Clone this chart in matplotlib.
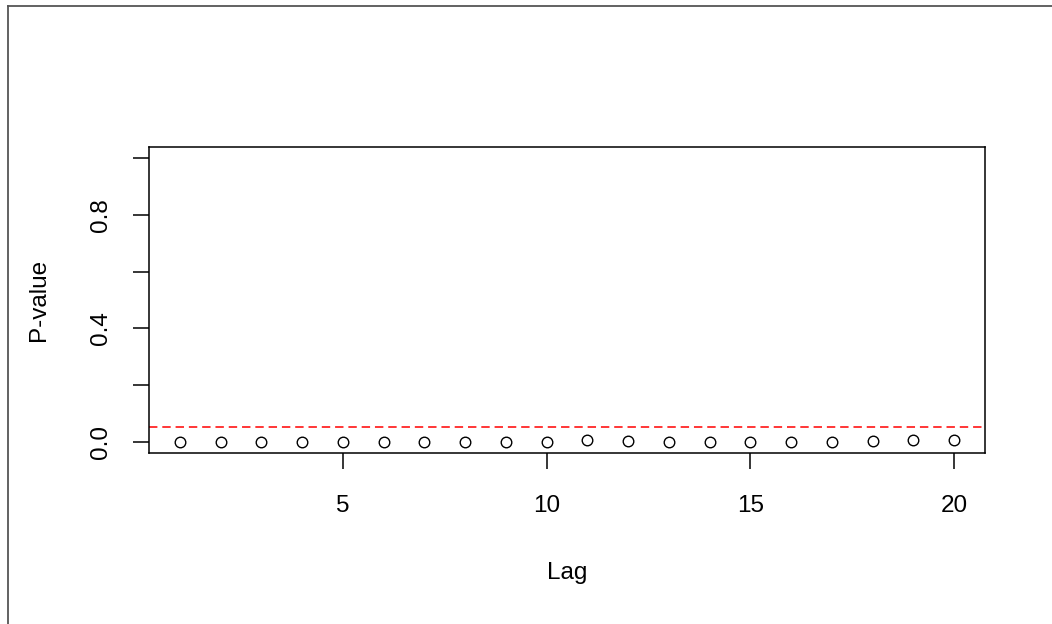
import numpy as np
import matplotlib
matplotlib.use("Agg")
import matplotlib.pyplot as plt
from matplotlib.lines import Line2D

plt.rcParams['font.family'] = ['Liberation Sans', 'DejaVu Sans']

# Ljung-Box style p-values per lag
lags = list(range(1, 21))
p_values = [0.0002, 0.0002, 0.0002, 0.0002, 0.0002, 0.0002, 0.0002, 0.0002, 0.0003, 0.0003,
            0.007, 0.0008, 0.0005, 0.0005, 0.0005, 0.0005, 0.0005, 0.0006, 0.007, 0.007]
alpha = 0.05

y_ticks = [0.0, 0.2, 0.4, 0.6, 0.8, 1.0]
y_labels = ['0.0', '', '0.4', '', '0.8', '']
x_ticks = [5, 10, 15, 20]

fig = plt.figure(figsize=(10.52, 6.24), dpi=100)
ax = fig.add_axes([149 / 1052, 1 - 453 / 624, (985 - 149) / 1052, (453 - 147) / 624])

ax.plot(lags, p_values, linestyle='none', marker='o', markersize=7.6,
        markerfacecolor='none', markeredgecolor='black', markeredgewidth=1.0)
ax.axhline(alpha, color='red', linestyle=(0, (5.5, 3.2)), linewidth=1.1)

ax.set_xlim(0.24, 20.76)
ax.set_ylim(-0.04, 1.04)
ax.set_xticks(x_ticks)
ax.set_yticks(y_ticks)
ax.set_yticklabels(y_labels, rotation=90, va='center')

for s in ax.spines.values():
    s.set_linewidth(1.1)
ax.tick_params(axis='both', length=11.5, width=1.1, labelsize=17.5, colors='black')
ax.tick_params(axis='x', pad=18.5)
ax.tick_params(axis='y', pad=15)

ax.set_xlabel('Lag', fontsize=17.5, labelpad=33)
ax.set_ylabel('P-value', fontsize=17.5, labelpad=29)

# gray frame at the left and top of the image
fig.add_artist(Line2D([7.5 / 1052, 7.5 / 1052], [0, 1 - 5.5 / 624], color='#555555', linewidth=1.3))
fig.add_artist(Line2D([7.5 / 1052, 1], [1 - 5.5 / 624, 1 - 5.5 / 624], color='#555555', linewidth=1.3))

fig.savefig('out.png', dpi=100)
